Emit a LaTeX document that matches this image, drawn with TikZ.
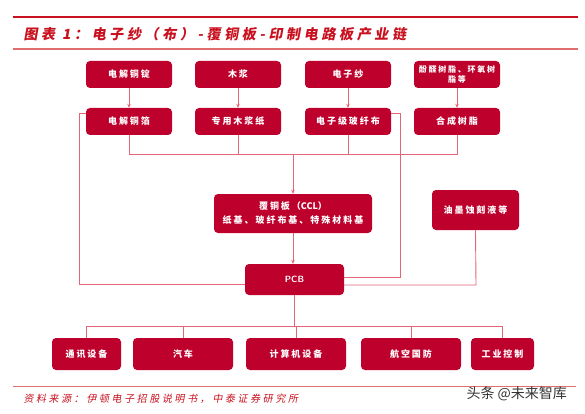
\documentclass[tikz,border=0pt]{standalone}
\usepackage{fontspec}
\newfontfamily\cjkbox[LetterSpace=22]{Noto Sans CJK SC}
\newfontfamily\cjktitle[LetterSpace=26,FakeSlant=0.18]{Noto Sans CJK SC}
\newfontfamily\cjkplain{Noto Sans CJK SC}
\usepackage{tikz}
\usetikzlibrary{positioning, arrows.meta, calc}

\definecolor{boxred}{RGB}{190,0,45}
\definecolor{linkred}{RGB}{228,100,120}
\definecolor{titlered}{RGB}{200,16,30}
\definecolor{rulered}{RGB}{225,110,110}

\tikzset{
  redbox/.style={fill=boxred, rounded corners=4pt, text=white, align=center,
    inner sep=0pt, minimum height=27pt, minimum width=86pt,
    font=\cjkbox\bfseries\fontsize{9}{11}\selectfont},
  link/.style={draw=linkred, line width=0.9pt},
  arr/.style={link, -{Stealth[length=4pt,width=3.5pt]}}
}

\begin{document}
\begin{tikzpicture}[x=1pt,y=-1pt]
  \useasboundingbox (0,0) rectangle (585,414);

  % Title
  \draw[titlered, line width=2pt] (13,17) -- (578,17);
  \node[anchor=west, text=titlered, font=\cjktitle\bfseries\fontsize{14}{16}\selectfont] (title) at (20,34) {图表 1：电子纱（布）-覆铜板-印制电路板产业链};
  \draw[rulered, line width=1.5pt] (13,49) -- (578,49);

  % Nodes
  \foreach \n/\t/\x in {ingot/电解铜锭/129, pulp/木浆/238, yarn/电子纱/348}
    \node[redbox] (\n) at (\x,74.5) {\t};
  \node[redbox, font=\cjkbox\bfseries\fontsize{8}{10}\selectfont] (phenol) at (457,74.5) {酚醛树脂、环氧树\\脂等};
  \foreach \n/\t/\x in {foil/电解铜箔/129, paper/专用木浆纸/238, cloth/电子级玻纤布/348, resin/合成树脂/457}
    \node[redbox] (\n) at (\x,121.5) {\t};
  \node[redbox, minimum width=158pt, minimum height=39pt, font=\cjkbox\bfseries\fontsize{9}{14}\selectfont] (ccl) at (293,213.5) {覆铜板（{\cjkplain CCL}）\\纸基、玻纤布基、特殊材料基};
  \node[redbox, minimum width=87pt, minimum height=40pt] (ink) at (475.5,210) {油墨蚀刻液等};
  \node[redbox, minimum width=99pt, minimum height=31pt, font=\sffamily\bfseries\fontsize{9}{11}\selectfont] (pcb) at (294.5,279.5) {PCB};
  \foreach \n/\t/\x/\w in {comm/通讯设备/86.5/69, auto/汽车/183/100, comp/计算机设备/296/100, aero/航空国防/411/100, ctrl/工业控制/502.5/63}
    \node[redbox, minimum width=\w pt, minimum height=32pt] (\n) at (\x,354) {\t};

  % Arrows
  \foreach \a/\b in {ingot/foil, pulp/paper, yarn/cloth, phenol/resin}
    \draw[arr] (\a.south) -- (\b.north);
  \coordinate (busA) at (293,154);
  \foreach \n in {foil, paper, cloth, resin}
    \draw[link] (\n.south) |- (busA);
  \draw[arr] (busA) -- (ccl.north);
  \draw[arr] (ccl.south) -- (ccl.south |- pcb.north);

  \coordinate (leftturn) at (79,284);
  \draw[link] ([yshift=8.5pt]foil.west) -| (leftturn) -- (leftturn -| pcb.west);
  \coordinate (rightturn) at (400,277);
  \draw[link] ([yshift=8.5pt]cloth.east) -| (rightturn) -- (rightturn -| pcb.east);
  \coordinate (inkturn) at (476,285);
  \draw[link] (ink.south) -- (inkturn) -- (inkturn -| pcb.east);

  \coordinate (busB) at (294.5,326);
  \draw[link] (pcb.south) -- (busB);
  \foreach \n in {comm, auto, comp, aero, ctrl}
    \draw[link] (busB) -| (\n.north);

  % Footer
  \draw[rulered, line width=1pt] (13,386) -- (576,386);
  \node[anchor=west, text=titlered, font=\cjktitle\fontsize{10}{12}\selectfont] (source) at (20,399) {资料来源：伊顿电子招股说明书，中泰证券研究所};
  \node[anchor=west, text=black!80, font=\cjkplain\fontsize{14}{16}\selectfont] (mark) at (463,394) {头条 @未来智库};
\end{tikzpicture}
\end{document}
